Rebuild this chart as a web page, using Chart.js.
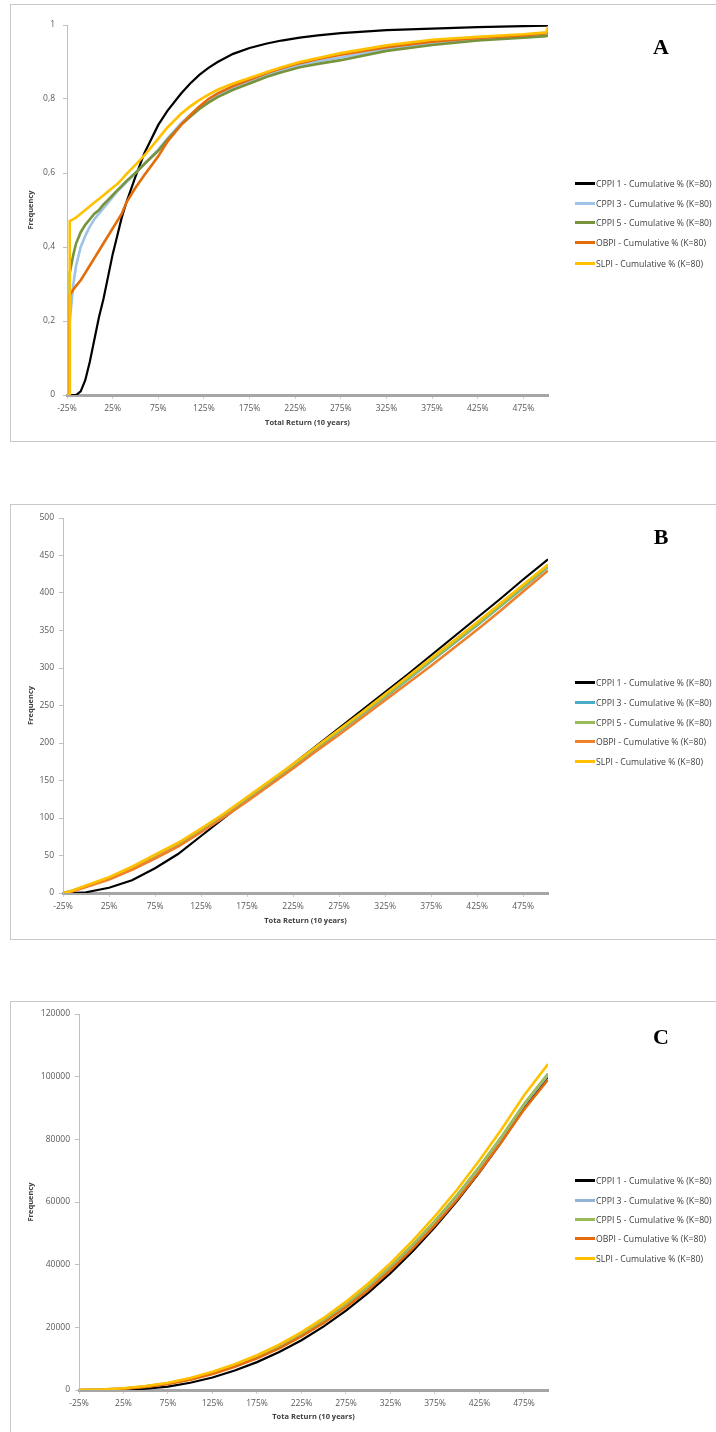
<!DOCTYPE html>
<html>
<head>
<meta charset="utf-8">
<script src="https://cdn.jsdelivr.net/npm/chart.js@4.4.1/dist/chart.umd.min.js"></script>
<style>
  body { margin: 0; width: 716px; height: 1432px; overflow: hidden; background: #fff; font-family: "Open Sans", sans-serif; }
  .panel { position: absolute; left: 10px; width: 720px; border: 1px solid #c8c8c8; box-sizing: border-box; }
  canvas { position: absolute; left: 10px; }
  .letter { position: absolute; left: 631px; width: 60px; text-align: center; font: bold 22px "Liberation Serif", serif; line-height: 22px; color: #000; }
  .legend-item { position: absolute; left: 575px; font-size: 8.7px; line-height: 10px; color: #404040; white-space: nowrap; }
  .legend-item .swatch { display: inline-block; width: 20px; height: 3px; vertical-align: middle; margin-right: 1px; position: relative; top: -1px; }
</style>
</head>
<body>
<div class="panel" style="top:4px;height:438px"></div>
<div class="panel" style="top:504px;height:436px"></div>
<div class="panel" style="top:1001px;height:440px"></div>

<canvas id="chartA" width="706" height="436" style="top:5px"></canvas>
<canvas id="chartB" width="706" height="434" style="top:505px"></canvas>
<canvas id="chartC" width="706" height="433" style="top:1002px"></canvas>

<div class="letter" style="top:36px">A</div>
<div class="letter" style="top:526px">B</div>
<div class="letter" style="top:1026px">C</div>

<script>
const seriesNames = [
  "CPPI 1 - Cumulative % (K=80)",
  "CPPI 3 - Cumulative % (K=80)",
  "CPPI 5 - Cumulative % (K=80)",
  "OBPI - Cumulative % (K=80)",
  "SLPI - Cumulative % (K=80)"
];
const xTickValues = [-25, 25, 75, 125, 175, 225, 275, 325, 375, 425, 475];

// Panel A - cumulative frequency
const returnsA = [-24, -22, -22, -18, -15, -10, -5, 0, 5, 10, 15, 20, 25, 30, 35, 40, 50, 60, 75, 85, 100, 110, 120, 130, 140, 157, 175, 194, 210, 230, 250, 275, 325, 375, 425, 475, 500, 502];
const cppi1A = [0, 0, 0, 0, 0, 0.01, 0.04, 0.09, 0.15, 0.21, 0.26, 0.32, 0.38, 0.43, 0.48, 0.52, 0.59, 0.655, 0.73, 0.768, 0.815, 0.842, 0.865, 0.884, 0.9, 0.922, 0.938, 0.95, 0.958, 0.966, 0.972, 0.978, 0.986, 0.99, 0.994, 0.997, 0.998, 1.0];
const cppi3A = [0, 0, 0.2, 0.3, 0.35, 0.4, 0.43, 0.455, 0.475, 0.49, 0.505, 0.52, 0.535, 0.55, 0.562, 0.575, 0.6, 0.625, 0.663, 0.693, 0.735, 0.757, 0.778, 0.795, 0.81, 0.83, 0.848, 0.865, 0.877, 0.892, 0.902, 0.912, 0.935, 0.95, 0.962, 0.97, 0.975, 0.977];
const cppi5A = [0, 0, 0.33, 0.38, 0.41, 0.44, 0.46, 0.475, 0.49, 0.5, 0.515, 0.527, 0.54, 0.553, 0.565, 0.578, 0.6, 0.625, 0.66, 0.69, 0.73, 0.752, 0.773, 0.79, 0.805, 0.825, 0.842, 0.86, 0.872, 0.886, 0.895, 0.905, 0.93, 0.946, 0.958, 0.966, 0.97, 0.972];
const obpiA = [0, 0, 0.27, 0.285, 0.295, 0.31, 0.33, 0.35, 0.37, 0.39, 0.41, 0.43, 0.45, 0.47, 0.49, 0.52, 0.56, 0.595, 0.645, 0.685, 0.73, 0.756, 0.78, 0.8, 0.815, 0.835, 0.852, 0.87, 0.883, 0.897, 0.908, 0.92, 0.94, 0.955, 0.965, 0.972, 0.978, 0.98];
const slpiA = [0, 0, 0.47, 0.475, 0.48, 0.49, 0.5, 0.51, 0.52, 0.53, 0.54, 0.55, 0.56, 0.57, 0.583, 0.597, 0.622, 0.648, 0.693, 0.723, 0.76, 0.78, 0.797, 0.812, 0.825, 0.842, 0.857, 0.873, 0.886, 0.9, 0.911, 0.924, 0.945, 0.96, 0.968, 0.975, 0.98, 0.995];

// Panel B
const returnsB = [-25, -15, 0, 25, 50, 75, 100, 125, 150, 175, 200, 225, 250, 275, 300, 325, 350, 375, 400, 425, 450, 475, 502];
const cppi1B = [0, 0, 1, 7, 17, 33, 52, 76, 100, 124, 148, 172, 196, 220, 244, 268, 292, 317, 342, 367, 392, 418, 445];
const cppi3B = [0, 3, 9, 20, 34, 48, 64, 83, 103, 125, 147, 169, 192, 215, 238, 261, 285, 309, 333, 357, 382, 407, 435];
const cppi5B = [0, 3, 9, 20, 34, 49, 65, 84, 104, 126, 148, 170, 193, 216, 239, 262, 286, 310, 334, 358, 383, 408, 436];
const obpiB = [0, 2, 8, 18, 31, 46, 62, 81, 101, 122, 144, 166, 189, 211, 234, 257, 280, 303, 327, 351, 376, 402, 430];
const slpiB = [0, 3, 10, 21, 35, 51, 67, 86, 106, 128, 150, 172, 195, 218, 241, 265, 289, 313, 337, 361, 386, 411, 438];

// Panel C
const returnsC = [-25, 0, 25, 50, 75, 100, 125, 150, 175, 200, 225, 250, 275, 300, 325, 350, 375, 400, 425, 450, 475, 502];
const cppi1C = [0, 0, 80, 400, 1100, 2300, 4000, 6200, 8900, 12100, 15900, 20300, 25300, 31000, 37300, 44300, 52000, 60400, 69500, 79300, 89800, 100000];
const cppi3C = [0, 120, 470, 1120, 2100, 3550, 5450, 7800, 10600, 13900, 17800, 22200, 27200, 32800, 39200, 46200, 53800, 62000, 71000, 80700, 91000, 100500];
const cppi5C = [0, 120, 480, 1150, 2150, 3600, 5500, 7900, 10700, 14000, 17900, 22300, 27400, 33000, 39400, 46400, 54000, 62300, 71300, 81000, 91300, 101000];
const obpiC = [0, 100, 400, 1000, 1950, 3300, 5100, 7400, 10100, 13300, 17100, 21400, 26400, 31900, 38200, 45100, 52600, 60800, 69700, 79300, 89500, 99000];
const slpiC = [0, 150, 550, 1250, 2300, 3800, 5800, 8200, 11100, 14500, 18500, 23000, 28200, 34000, 40500, 47700, 55500, 64000, 73300, 83300, 94000, 104000];

const colorsA = ['#000000', '#9dc3e6', '#77933c', '#e36c09', '#ffc000'];
const colorsB = ['#000000', '#4bacc6', '#9bbb59', '#f0802a', '#ffc000'];
const colorsC = ['#000000', '#95b3d7', '#9bbb59', '#e46c0a', '#ffc000'];

const tickFont = { family: 'Open Sans', size: 8.5 };
const titleFont = { family: 'Open Sans', size: 7.5, weight: 'bold' };

const makeChart = (canvasId, xs, seriesList, colors, yOpts, xTitle, area) => {
  const canvas = document.getElementById(canvasId);

  const datasets = seriesList.map((values, i) => ({
    label: seriesNames[i],
    data: values.map((v, j) => ({ x: xs[j], y: v })),
    borderColor: colors[i],
    borderWidth: i === 0 ? 2.2 : 2.6,
    pointRadius: 0,
    tension: 0,
    fill: false,
    order: seriesList.length - i
  }));

  return new Chart(canvas, {
    type: 'line',
    data: { datasets },
    options: {
      responsive: false,
      animation: false,
      devicePixelRatio: 1,
      layout: { padding: { left: 0, top: area.top, right: canvas.width - area.right, bottom: 0 } },
      plugins: { legend: { display: false }, tooltip: { enabled: false } },
      scales: {
        x: {
          type: 'linear',
          min: -25,
          max: 502,
          afterBuildTicks: (scale) => { scale.ticks = xTickValues.map(v => ({ value: v })); },
          afterFit: (scale) => { scale.height = area.xh; },
          ticks: { callback: (v) => v + '%', font: tickFont, color: '#595959', padding: 4.5, maxRotation: 0, autoSkip: false },
          grid: { display: true, drawOnChartArea: false, tickLength: 4, color: '#d0d0d0' },
          border: { color: '#a6a6a6', width: 3 },
          title: { display: true, text: xTitle, font: titleFont, color: '#404040', padding: { top: 0, bottom: 13.5 } }
        },
        y: {
          min: yOpts.min,
          max: yOpts.max,
          afterFit: (scale) => { scale.width = area.yw; },
          ticks: { stepSize: yOpts.step, callback: yOpts.format, font: tickFont, color: '#595959', padding: area.yPad },
          grid: { display: true, drawOnChartArea: false, tickLength: 4, color: '#bfbfbf' },
          border: { color: '#bfbfbf', width: 1 },
          title: { display: true, text: 'Frequency', font: titleFont, color: '#404040', padding: { top: 16.5, bottom: 0 } }
        }
      }
    }
  });
};

const addLegend = (centers, colors) => {
  centers.forEach((cy, i) => {
    const item = document.createElement('div');
    item.className = 'legend-item';
    item.style.top = (cy - 5) + 'px';
    const swatch = document.createElement('span');
    swatch.className = 'swatch';
    swatch.style.background = colors[i];
    item.appendChild(swatch);
    item.appendChild(document.createTextNode(seriesNames[i]));
    document.body.appendChild(item);
  });
};

makeChart('chartA', returnsA, [cppi1A, cppi3A, cppi5A, obpiA, slpiA], colorsA,
  { min: 0, max: 1, step: 0.2, format: (v) => String(Math.round(v * 10) / 10).replace('.', ',') },
  'Total Return (10 years)', { top: 20, right: 538, xh: 46, yw: 57, yPad: 8 });

makeChart('chartB', returnsB, [cppi1B, cppi3B, cppi5B, obpiB, slpiB], colorsB,
  { min: 0, max: 500, step: 50, format: (v) => String(v) },
  'Tota Return (10 years)', { top: 13, right: 538, xh: 46, yw: 53, yPad: 5 });

makeChart('chartC', returnsC, [cppi1C, cppi3C, cppi5C, obpiC, slpiC], colorsC,
  { min: 0, max: 120000, step: 20000, format: (v) => String(v) },
  'Tota Return (10 years)', { top: 12, right: 538, xh: 45, yw: 69, yPad: 5 });

addLegend([184, 204, 223, 243, 264], colorsA);
addLegend([683, 703, 723, 742, 762], colorsB);
addLegend([1181, 1201, 1220, 1239, 1259], colorsC);
</script>
</body>
</html>
